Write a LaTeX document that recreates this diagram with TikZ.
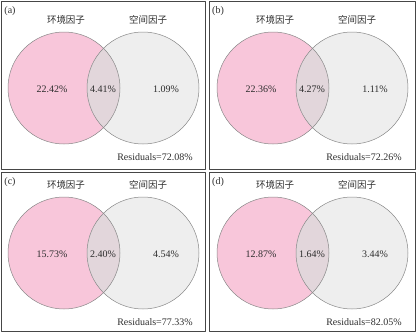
\documentclass[tikz,border=0pt]{standalone}
\usepackage{fontspec}
\setmainfont{Liberation Serif}
\newfontfamily\cjk{Noto Sans CJK SC}
\definecolor{envpink}{RGB}{248,198,218}
\definecolor{spgray}{RGB}{238,238,238}
\definecolor{bothmix}{RGB}{226,214,219}
\definecolor{rimgray}{RGB}{135,135,135}
\definecolor{txtgray}{RGB}{45,45,45}
\definecolor{framegray}{RGB}{70,70,70}
\begin{document}
\begin{tikzpicture}[x=1pt,y=-1pt,line join=round,line cap=round,
	pct/.style={text=txtgray,font=\fontsize{10}{12}\selectfont,inner sep=0pt},
	factor/.style={text=txtgray,font=\cjk\fontsize{9.5}{12}\selectfont,inner sep=0pt},
	frame/.style={draw=framegray,line width=.8pt},
	rim/.style={draw=rimgray,line width=.5pt}]
	\useasboundingbox (0,0) rectangle (416,332);
	
	% Bốn ô: khung, hai vòng tròn, phần giao và các nhãn
	\foreach \fx/\fy/\fw/\fh/\ox/\oy/\panel/\pa/\pb/\pc/\res in {
		1/1/204/168/0/0/a/22.42/4.41/1.09/72.08,
		209/1/206/168/209/0/b/22.36/4.27/1.11/72.26,
		1/172/204/159/0/165/c/15.73/2.40/4.54/77.33,
		209/172/206/159/209/165/d/12.87/1.64/3.44/82.05}{
		% Khung ô
		\draw[frame] (\fx,\fy) rectangle ++(\fw,\fh);
		\node[pct] (tag\panel) at (\fx+9,\fy+10) {(\panel)};
		
		\begin{scope}[shift={(\ox,\oy)}]
			% Hai vòng tròn
			\coordinate (env\panel) at (64,88);
			\coordinate (sp\panel) at (143,88);
			\fill[envpink] (env\panel) circle (56pt);
			\fill[spgray] (sp\panel) circle (56pt);
			\begin{scope}
				\clip (env\panel) circle (56pt);
				\fill[bothmix] (sp\panel) circle (56pt);
			\end{scope}
			\draw[rim] (env\panel) circle (56pt);
			\draw[rim] (sp\panel) circle (56pt);
			
			% Tên các nhóm nhân tố
			\node[factor] (envname\panel) at (66,20) {环境因子};
			\node[factor] (spname\panel) at (148,20) {空间因子};
			
			% Tỉ lệ giải thích
			\node[pct] (pa\panel) at (52,89) {\pa\%};
			\node[pct] (pb\panel) at (103,89) {\pb\%};
			\node[pct] (pc\panel) at (166,89) {\pc\%};
			\node[pct] (res\panel) at (155,157) {Residuals=\res\%};
		\end{scope}
	}
\end{tikzpicture}
\end{document}
